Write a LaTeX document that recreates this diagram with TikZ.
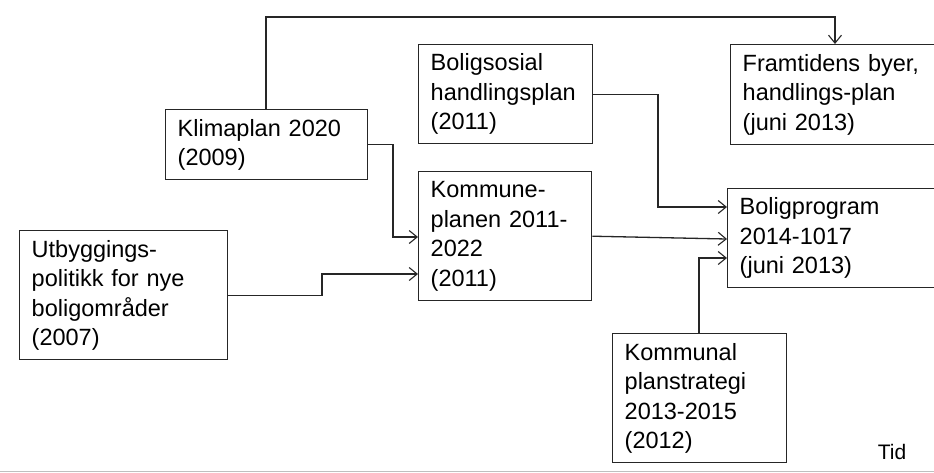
\documentclass[tikz,border=0pt]{standalone}
\usepackage{fontspec}
\setmainfont{Liberation Sans}
\usetikzlibrary{arrows.meta}
\begin{document}
\begin{tikzpicture}[x=1pt,y=-1pt,
  box/.style={draw=black!85, line width=1.4pt, anchor=north west, align=left,
    inner xsep=12pt, inner ysep=0pt, font=\fontsize{23.5}{29.5}\selectfont},
  conn/.style={draw=black!85, line width=1.3pt, -{Straight Barb[length=8pt,width=13pt,line width=1.1pt]}}]
\clip (0,0) rectangle (934,472);
\fill[white] (0,0) rectangle (934,472);
\node[box, text width=178pt, minimum height=70pt] (klima) at (165,109) {Klimaplan 2020\\(2009)};
\node[box, text width=150pt, minimum height=99pt] (bolig) at (418,44) {Boligsosial\\handlingsplan\\(2011)};
\node[box, text width=196pt, minimum height=100pt] (fram) at (730,44) {Framtidens byer,\\handlings-plan\\(juni 2013)};
\node[box, text width=149pt, minimum height=129pt] (kommune) at (418,171) {Kommune-\\planen 2011-\\2022\\(2011)};
\node[box, text width=196pt, minimum height=99pt] (prog) at (727,188) {Boligprogram\\2014-1017\\(juni 2013)};
\node[box, text width=184pt, minimum height=129pt] (utb) at (19,230) {Utbyggings-\\politikk for nye\\boligområder\\(2007)};
\node[box, text width=150pt, minimum height=129pt] (strat) at (612,333) {Kommunal\\planstrategi\\2013-2015\\(2012)};
\node[font=\fontsize{21}{25}\selectfont, inner sep=0pt] (tid) at (892,452) {Tid};
\coordinate (kup) at (266,17);
\coordinate (fdown) at (835,17);
\coordinate (k2) at (393,237);
\coordinate (b2) at (658,207);
\coordinate (p3) at (727,239);
\coordinate (u2) at (322,274);
\coordinate (s2) at (699,258);
\draw[conn] (kup |- klima.north) -- (kup) -- (fdown) -- (fdown |- fram.north);
\draw[conn] (klima.east) -| (k2) -- (k2 -| kommune.west);
\draw[conn] (bolig.east) -| (b2) -- (b2 -| prog.west);
\draw[conn] (kommune.east) -- (p3 -| prog.west);
\draw[conn] (utb.east) -| (u2) -- (u2 -| kommune.west);
\draw[conn] (s2 |- strat.north) -- (s2) -- (s2 -| prog.west);
\draw[black!25, line width=1pt] (0,471) -- (934,471);
\end{tikzpicture}
\end{document}
